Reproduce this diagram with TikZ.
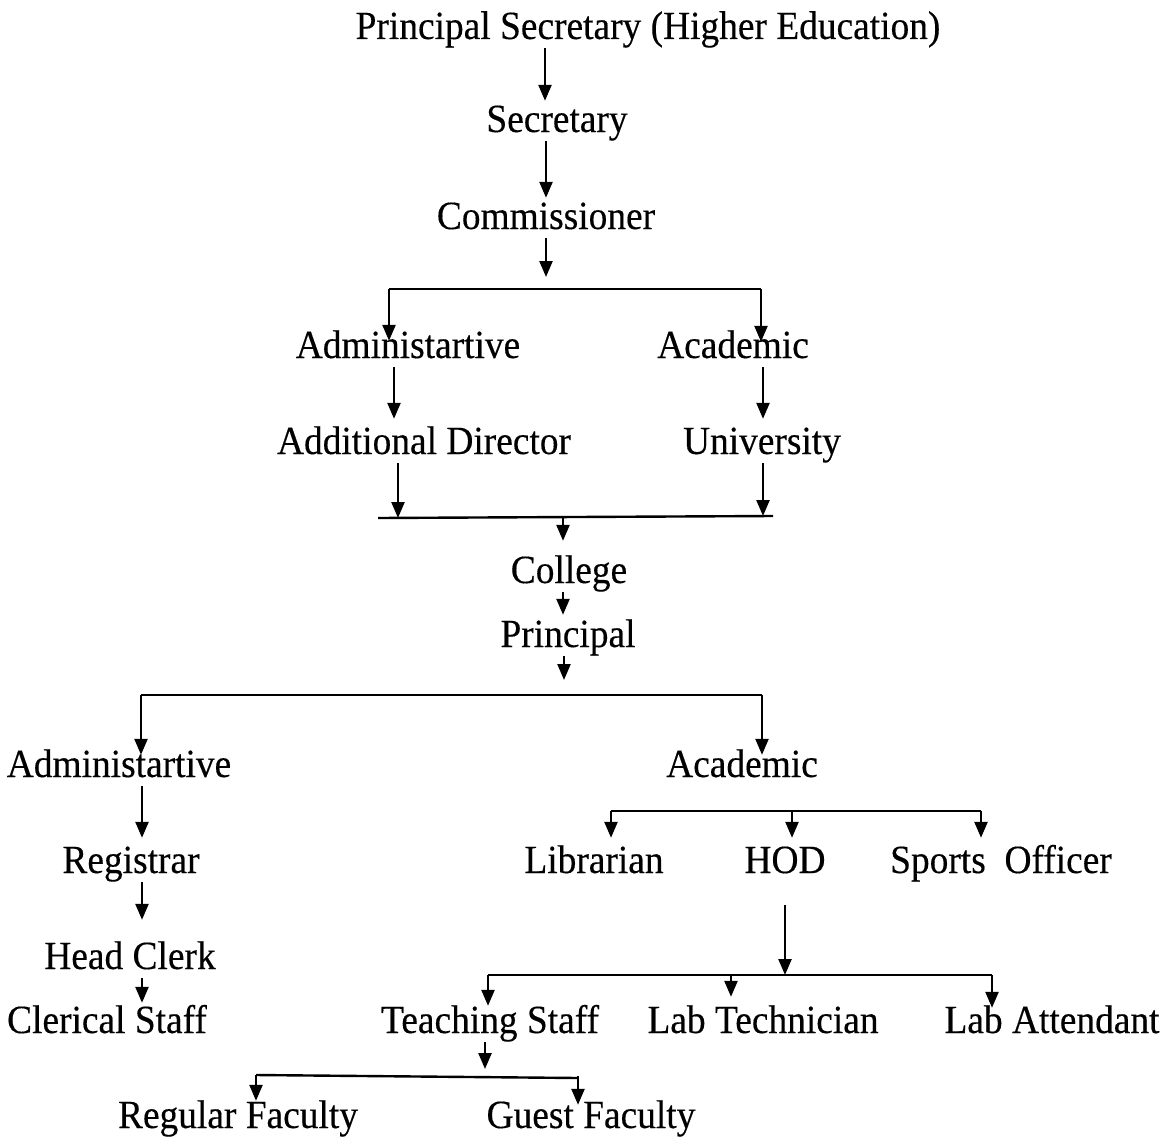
\documentclass[tikz,border=0pt]{standalone}
\usepackage{fontspec}
\setmainfont{Liberation Serif}[FakeStretch=0.935, FakeBold=0.3]
\usepackage{tikz}
\usetikzlibrary{arrows.meta, calc, positioning}

\begin{document}
\begin{tikzpicture}[x=1pt,y=-1pt,
            org node/.style={inner sep=0pt, anchor=base, text height=27pt, text depth=9pt,
                font=\fontsize{40}{44}\selectfont},
            down arrow/.style={-{Triangle[width=13pt,length=16pt]}, line width=2.4pt},
            bar line/.style={line width=2.4pt}]
            \useasboundingbox (0,0) rectangle (1167,1140);

            \node[org node] (ps)   at (648,39)   {Principal Secretary (Higher Education)};
            \node[org node] (sec)  at (557,132)  {Secretary};
            \node[org node] (com)  at (546,229)  {Commissioner};
            \node[org node] (adm1) at (408,358)  {Administartive};
            \node[org node] (aca1) at (733,358)  {Academic};
            \node[org node] (add)  at (424,454)  {Additional Director};
            \node[org node] (uni)  at (762,454)  {University};
            \node[org node] (col)  at (569,583)  {College};
            \node[org node] (prin) at (568,647)  {Principal};
            \node[org node] (adm2) at (119,777)  {Administartive};
            \node[org node] (aca2) at (742,777)  {Academic};
            \node[org node] (reg)  at (131,873)  {Registrar};
            \node[org node] (lib)  at (594,873)  {Librarian};
            \node[org node] (hod)  at (785,873)  {HOD};
            \node[org node] (spo)  at (1001,873) {Sports\ \ Officer};
            \node[org node] (hc)   at (130,969)  {Head Clerk};
            \node[org node] (cle)  at (107,1033) {Clerical Staff};
            \node[org node] (tea)  at (490,1033) {Teaching Staff};
            \node[org node] (lt)   at (763,1033) {Lab Technician};
            \node[org node] (la)   at (1052,1033) {Lab Attendant};
            \node[org node] (rf)   at (238,1128) {Regular Faculty};
            \node[org node] (gf)   at (591,1128) {Guest Faculty};

            \coordinate (bar1 left)  at (389,289);
            \coordinate (bar1 right) at (761,289);
            \coordinate (bar2 left)  at (378,518);
            \coordinate (bar2 right) at (773,516);
            \coordinate (bar3 left)  at (141,695);
            \coordinate (bar3 right) at (762,695);
            \coordinate (bar4 left)  at (611,811);
            \coordinate (bar4 right) at (981,811);
            \coordinate (bar5 left)  at (488,975);
            \coordinate (bar5 right) at (992,975);
            \coordinate (bar6 left)  at (256,1075);
            \coordinate (bar6 right) at (578,1078);

            \draw[down arrow, shorten >=4pt] ([xshift=-12pt]sec.north |- ps.south) -- ([xshift=-12pt]sec.north);
            \draw[down arrow, shorten >=4pt] (com.north |- sec.south) -- (com.north);
            \draw[down arrow, shorten >=12pt] (com.south) -- (com.south |- bar1 left);
            \draw[bar line] (bar1 left) -- (bar1 right);
            \draw[down arrow, shorten >=-10pt] (bar1 left) -- (bar1 left |- adm1.north);
            \draw[down arrow, shorten >=-11pt] (bar1 right) -- (bar1 right |- aca1.north);
            \draw[down arrow, shorten >=8pt] ([xshift=-14pt]adm1.south) -- ([xshift=-14pt]adm1.south |- add.north);
            \draw[down arrow, shorten >=8pt] ([xshift=1pt]uni.north |- aca1.south) -- ([xshift=1pt]uni.north);
            \draw[down arrow] ([xshift=-26pt]add.south) -- ([xshift=-26pt]add.south |- bar2 left);
            \draw[down arrow] ([xshift=1pt]uni.south) -- ([xshift=1pt]uni.south |- bar2 right);
            \draw[bar line] (bar2 left) -- (bar2 right);
            \draw[down arrow, shorten >=15pt] ([xshift=-6pt]col.north |- bar2 left) -- ([xshift=-6pt]col.north);
            \draw[down arrow, shorten >=5pt] ([xshift=-5pt]prin.north |- col.south) -- ([xshift=-5pt]prin.north);
            \draw[down arrow, shorten >=15pt] ([xshift=-4pt]prin.south) -- ([xshift=-4pt]prin.south |- bar3 left);
            \draw[bar line] (bar3 left) -- (bar3 right);
            \draw[down arrow, shorten >=-5pt] (bar3 left) -- (bar3 left |- adm2.north);
            \draw[down arrow, shorten >=-5pt] (bar3 right) -- (bar3 right |- aca2.north);
            \draw[down arrow, shorten >=8pt] ([xshift=11pt]reg.north |- adm2.south) -- ([xshift=11pt]reg.north);
            \draw[down arrow, shorten >=22pt] ([xshift=11pt]reg.south) -- ([xshift=11pt]reg.south |- hc.north);
            \draw[down arrow, shorten >=3pt] ([xshift=12pt]hc.south) -- ([xshift=12pt]hc.south |- cle.north);
            \draw[bar line] (bar4 left) -- (bar4 right);
            \draw[down arrow, shorten >=8pt] (bar4 left) -- (bar4 left |- lib.north);
            \draw[down arrow, shorten >=8pt] ([xshift=7pt]hod.north |- bar4 left) -- ([xshift=7pt]hod.north);
            \draw[down arrow, shorten >=8pt] (bar4 right) -- (bar4 right |- spo.north);
            \draw[down arrow, shorten <=23pt] (hod.south) -- (hod.south |- bar5 left);
            \draw[bar line] (bar5 left) -- (bar5 right);
            \draw[down arrow] (bar5 left) -- (bar5 left |- tea.north);
            \draw[down arrow, shorten >=9pt] ([xshift=-32pt]lt.north |- bar5 left) -- ([xshift=-32pt]lt.north);
            \draw[down arrow, shorten >=-2pt] (bar5 right) -- (bar5 right |- la.north);
            \draw[down arrow, shorten >=6pt] ([xshift=-5pt]tea.south) -- ([xshift=-5pt]tea.south |- bar6 left);
            \draw[bar line] (bar6 left) -- (bar6 right);
            \draw[down arrow] (bar6 left) -- (bar6 left |- rf.north);
            \draw[down arrow, shorten >=-4pt] ([yshift=2pt]bar6 right) -- (bar6 right |- gf.north);
\end{tikzpicture}
\end{document}
